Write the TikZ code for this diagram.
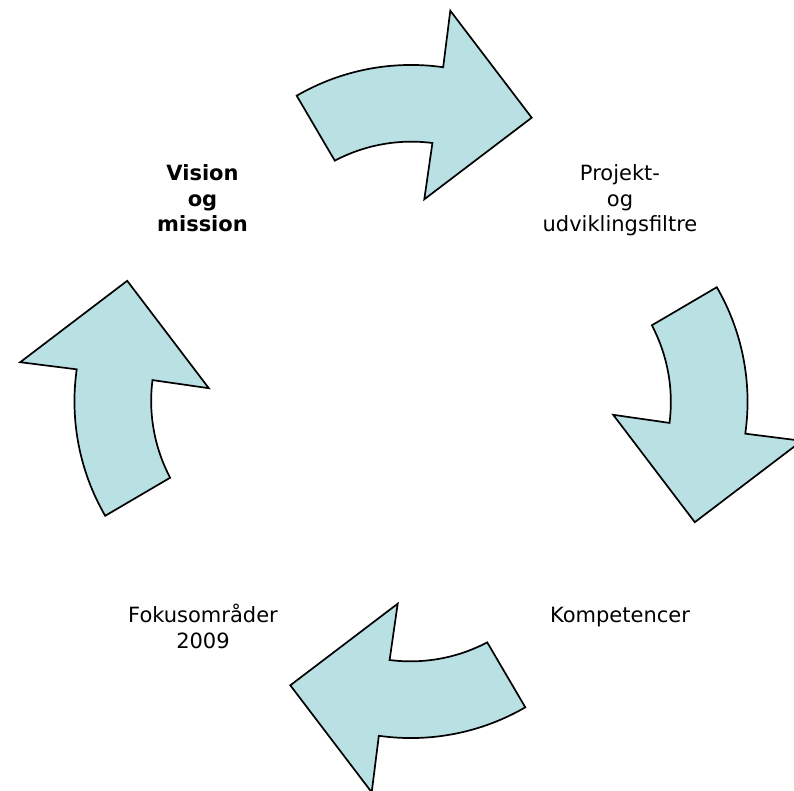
\documentclass[tikz,border=0pt]{standalone}
\usepackage{fontspec}
\setmainfont{DejaVu Sans}
\definecolor{arrowfill}{RGB}{185,224,227}
\begin{document}
\begin{tikzpicture}[x=1bp,y=1bp,
  cyclearrow/.style={draw=black, line width=1.7bp, fill=arrowfill, line join=miter},
  cyclelabel/.style={font=\fontsize{21bp}{25.5bp}\selectfont, align=center, inner sep=0pt, anchor=base},
  cyclelabelbold/.style={cyclelabel, font=\fontsize{21bp}{25.5bp}\selectfont\bfseries}]
\useasboundingbox (0,0) rectangle (794,-791);
\coordinate (hub) at (411,-401.5);

% one curved arrow, repeated clockwise around the hub
\foreach \turn in {0,-90,-180,-270}{
  \draw[cyclearrow, rotate around={\turn:(hub)}]
    (296.7,-95.7) arc[start angle=120.1, end angle=81.9, radius=228]
    -- (450.3,-10.7) -- (531.7,-117.7) -- (424.3,-199.3) -- (432.4,-143)
    arc[start angle=82.7, end angle=117.8, radius=164.5] -- cycle;
}

% labels, placed by the baseline of their last line
\node[cyclelabelbold] (vision)  at (202.5,-231.5) {Vision\\og\\mission};
\node[cyclelabel]     (projekt) at (620,-231.5)   {Projekt-\\og\\udviklingsfiltre};
\node[cyclelabel]     (komp)    at (620,-622)     {Kompetencer};
\node[cyclelabel]     (fokus)   at (203,-648)     {Fokusområder\\2009};
\end{tikzpicture}
\end{document}
